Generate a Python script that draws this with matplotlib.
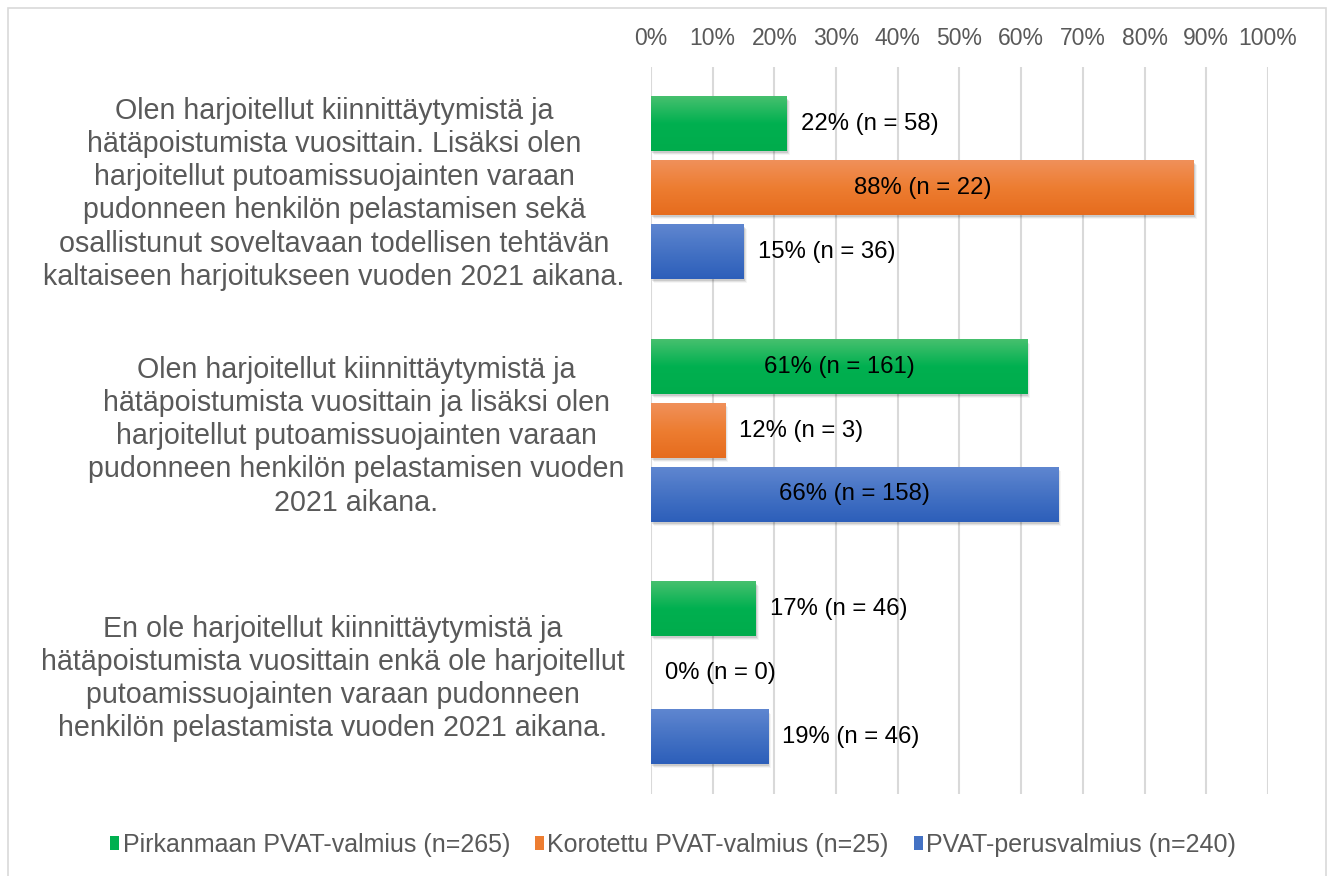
import numpy as np
import matplotlib
matplotlib.use("Agg")
import matplotlib.pyplot as plt
import matplotlib.patches as patches
from matplotlib.colors import LinearSegmentedColormap

plt.rcParams['font.family'] = ['Liberation Sans', 'DejaVu Sans']

# Data
categories = [
    "Olen harjoitellut kiinnittäytymistä ja\nhätäpoistumista vuosittain. Lisäksi olen\n"
    "harjoitellut putoamissuojainten varaan\npudonneen henkilön pelastamisen sekä\n"
    "osallistunut soveltavaan todellisen tehtävän\nkaltaiseen harjoitukseen vuoden 2021 aikana.",
    "Olen harjoitellut kiinnittäytymistä ja\nhätäpoistumista vuosittain ja lisäksi olen\n"
    "harjoitellut putoamissuojainten varaan\npudonneen henkilön pelastamisen vuoden\n2021 aikana.",
    "En ole harjoitellut kiinnittäytymistä ja\nhätäpoistumista vuosittain enkä ole harjoitellut\n"
    "putoamissuojainten varaan pudonneen\nhenkilön pelastamista vuoden 2021 aikana.",
]
series_names = ["Pirkanmaan PVAT-valmius (n=265)",
                "Korotettu PVAT-valmius (n=25)",
                "PVAT-perusvalmius (n=240)"]
pirkanmaa_pct = [22, 61, 17]
pirkanmaa_n = [58, 161, 46]
korotettu_pct = [88, 12, 0]
korotettu_n = [22, 3, 0]
perus_pct = [15, 66, 19]
perus_n = [36, 158, 46]
x_ticks = list(range(0, 101, 10))

# Styles: (base, top, bottom) gradient colours
styles = [
    ("#00B050", "#46C06E", "#00AC4C"),
    ("#ED7D31", "#F0905A", "#E66C1E"),
    ("#4472C4", "#5F86D0", "#2D5FBA"),
]

fig = plt.figure(figsize=(13.33, 8.76), dpi=100)
ax = fig.add_axes([0.4884, 0.0936, 0.4628, 0.8299])

values = [pirkanmaa_pct, korotettu_pct, perus_pct]
counts = [pirkanmaa_n, korotettu_n, perus_n]
offsets = [-0.264, 0.0, 0.264]
height = 0.223

ax.set_xlim(0, 100)
ax.set_ylim(2.5, -0.5)

px_x = 100 / 617.0
px_y = 1 / 242.3

y = np.arange(len(categories))
for s, (vals, ns, (base, top, bot)) in enumerate(zip(values, counts, styles)):
    cmap = LinearSegmentedColormap.from_list(f"g{s}", [top, base, bot])
    grad = np.linspace(0, 1, 64).reshape(-1, 1)
    bars = ax.barh(y + offsets[s], vals, height=height, color=base, zorder=3)
    for bar, v, n in zip(bars, vals, ns):
        x0, y0 = bar.get_x(), bar.get_y()
        w, h = bar.get_width(), bar.get_height()
        if w > 0:
            # soft shadow
            for k, a in enumerate([0.10, 0.07, 0.04]):
                sh = patches.Rectangle((x0 + px_x * (1 + k), y0 + px_y * (2 + k)), w, h,
                                       facecolor="#000000", alpha=a, edgecolor="none", zorder=2)
                ax.add_patch(sh)
            ax.imshow(grad, cmap=cmap, extent=(x0, x0 + w, y0 + h, y0), aspect="auto",
                      zorder=4, interpolation="bicubic")
        label = f"{v}% (n = {n})"
        cy = y0 + h / 2
        if v >= 50:
            ax.text(x0 + w / 2, cy, label, ha="center", va="center", fontsize=17.2,
                    color="#000000", zorder=5)
        else:
            ax.text(w + 14 * px_x, cy, label, ha="left", va="center", fontsize=17.2,
                    color="#000000", zorder=5)

ax.set_xlim(0, 100)
ax.set_ylim(2.5, -0.5)

ax.xaxis.tick_top()
ax.set_xticks(x_ticks)
ax.set_xticklabels([f"{t}%" for t in x_ticks], fontsize=16.5, color="#595959")
ax.set_yticks(y)
ax.set_yticklabels(categories, fontsize=20.6, color="#595959", multialignment="center",
                   linespacing=1.24)
ax.tick_params(axis="both", length=0)
ax.tick_params(axis="x", pad=12)
ax.tick_params(axis="y", pad=19)
ax.grid(axis="x", color="#D9D9D9", linewidth=1.5, zorder=0)
ax.set_axisbelow(True)
for sp in ax.spines.values():
    sp.set_visible(False)

handles = [patches.Patch(facecolor=st[0], edgecolor="none") for st in styles]
fig.legend(handles, series_names, loc="center", bbox_to_anchor=(0.505, 0.0354), ncol=3,
           frameon=False, fontsize=18, labelcolor="#595959", handlelength=0.35,
           handleheight=0.5, handletextpad=0.15, columnspacing=1.0)

border = patches.Rectangle((8 / 1333, -0.02), 1318 / 1333, 1 - 8 / 876 + 0.02,
                           transform=fig.transFigure, facecolor="none",
                           edgecolor="#D9D9D9", linewidth=1.2)
fig.patches.append(border)

fig.savefig("out.png", dpi=100)
